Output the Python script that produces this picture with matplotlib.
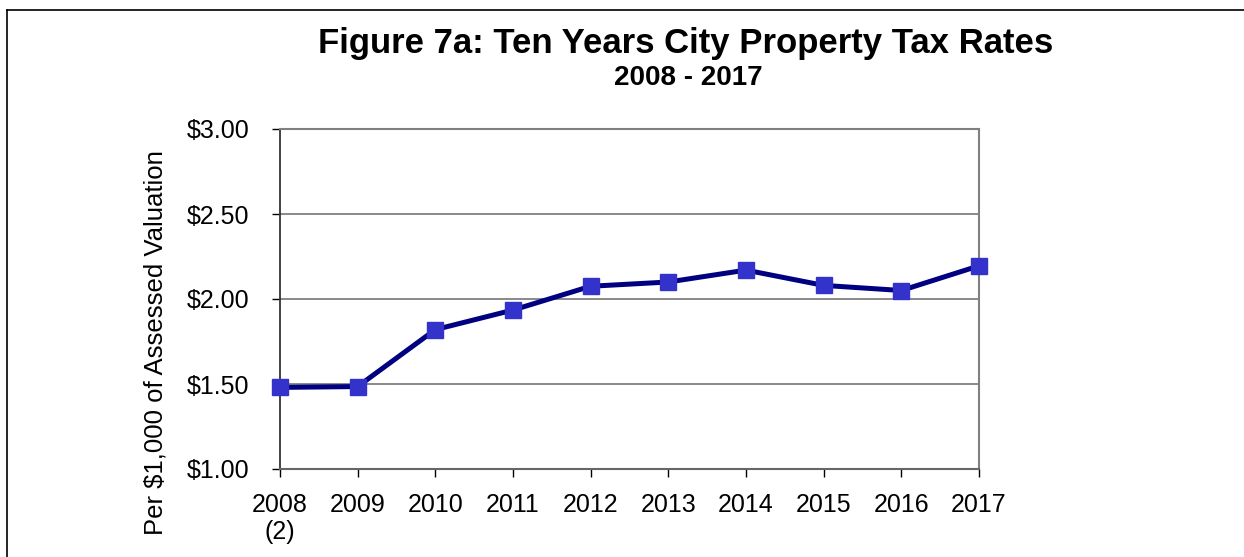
import matplotlib
matplotlib.use("Agg")
import matplotlib.pyplot as plt
from matplotlib.lines import Line2D

years = ["2008\n(2)", "2009", "2010", "2011", "2012", "2013", "2014", "2015", "2016", "2017"]
rates = [1.48, 1.485, 1.82, 1.935, 2.075, 2.10, 2.17, 2.08, 2.05, 2.195]
yticks = [1.00, 1.50, 2.00, 2.50, 3.00]
ytick_labels = ["$1.00", "$1.50", "$2.00", "$2.50", "$3.00"]

plt.rcParams['font.family'] = ['Liberation Sans', 'DejaVu Sans']

W, H = 1244, 557
fig = plt.figure(figsize=(W / 100, H / 100), dpi=100)
ax = fig.add_axes([280 / W, 1 - 469 / H, (979 - 280) / W, (469 - 129) / H])

x = list(range(len(years)))
ax.plot(x, rates, color="#000080", linewidth=3.6, marker="s", markersize=12,
        markerfacecolor="#3333CC", markeredgecolor="#3333CC", zorder=3, clip_on=False)

ax.set_xlim(0, len(years) - 1)
ax.set_ylim(1.0, 3.0)
ax.set_yticks(yticks)
ax.set_yticklabels(ytick_labels)
ax.set_xticks(x)
ax.set_xticklabels(years, linespacing=1.2)
ax.tick_params(axis="both", labelsize=18, length=6, width=1, color="black", direction="out")
ax.tick_params(axis="y", pad=16)
ax.tick_params(axis="x", pad=11)
ax.grid(axis="y", color="#808080", linewidth=1.3)
ax.set_axisbelow(True)
for s in ["top", "right"]:
    ax.spines[s].set_color("#808080")
    ax.spines[s].set_linewidth(1.5)
ax.spines["left"].set_color("#333333")
ax.spines["bottom"].set_color("#666666")
ax.spines["left"].set_linewidth(1.3)
ax.spines["bottom"].set_linewidth(1.5)

fig.text(686 / W, 1 - 44 / H, "Figure 7a: Ten Years City Property Tax Rates",
         ha="center", va="center", fontsize=25, fontweight="bold")
fig.text(688 / W, 1 - 78 / H, "2008 - 2017",
         ha="center", va="center", fontsize=20, fontweight="bold")
fig.text(155 / W, 1 - 343 / H, "Per $1,000 of Assessed Valuation",
         ha="center", va="center", rotation=90, fontsize=18.5)

# outer frame
fig.add_artist(Line2D([7 / W, 1.0], [1 - 10 / H, 1 - 10 / H], transform=fig.transFigure,
                      color="black", linewidth=1.2))
fig.add_artist(Line2D([7 / W, 7 / W], [0, 1 - 10 / H], transform=fig.transFigure,
                      color="black", linewidth=1.2))

fig.savefig("out.png", dpi=100)
